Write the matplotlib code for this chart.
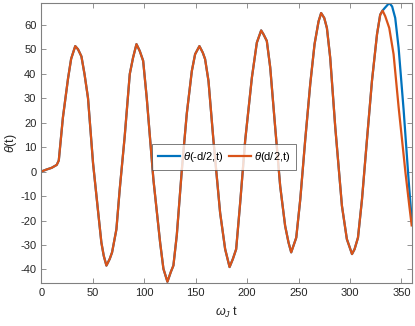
import matplotlib
matplotlib.use("Agg")
from matplotlib import pyplot as plt

# shared part of both curves (they overlap up to ~t=332)
t_common = [0, 5, 10, 15, 17, 21, 26, 29, 33, 35.7, 39, 42, 45.4, 50.3, 55, 58.4, 60.7, 63.3, 66.5,
            68.8, 73, 76.2, 81, 86, 89.2, 92.5, 95.7, 99, 102.5, 109, 115.5, 118.7, 122.6, 125.9,
            128.4, 131.7, 136.6, 141.4, 146.3, 149.5, 153.7, 157, 159.2, 162.5, 167.3, 173.8,
            178.7, 183, 186.2, 189.4, 193.3, 198.2, 204.7, 209.5, 213.7, 216, 219.2, 222.5, 227.3,
            232.2, 237, 240.3, 242.9, 245.1, 247.8, 251.7, 256.5, 261.4, 265.6, 269.5, 272, 275,
            277.6, 280.8, 285.7, 292.2, 297, 302, 304.5, 307.8, 311.7, 316.5, 321.4, 326.3, 329.4,
            331.7]
theta_common = [0, 0.8, 1.5, 2.7, 4.5, 22, 38, 46, 51.2, 49.9, 47, 39.8, 30, 3.4, -15.5, -29, -34.4,
                -38.4, -35.7, -33, -23.6, -7.4, 14, 39.8, 46.5, 52, 49.2, 45.2, 30, -3.4, -29,
                -39.7, -45, -41, -38.4, -26, 0.7, 23.6, 41, 47.9, 51.2, 48.5, 45.9, 37, 12.8,
                -16.8, -31.7, -39, -35.7, -31.7, -12.8, 12.8, 38.4, 52.6, 57.6, 56, 53.3, 42.5,
                18.2, -6, -22.2, -29, -33, -30.3, -27, -11.4, 12.8, 35.7, 52, 61.3, 64.7, 62.7,
                58.6, 46.5, 18.2, -14, -27.6, -33.7, -31.7, -27, -11.4, 12.8, 37, 56, 64, 65.7]

# where the two ends split apart
t_left_tail = [333.7, 338.2, 341, 344, 347.3, 352.2, 357, 360]
theta_left_tail = [66.7, 68.8, 67.4, 62.7, 50.5, 25, -3.4, -19.5]
t_right_tail = [334.3, 338.2, 342.4, 347.3, 354, 357.7, 360]
theta_right_tail = [63.4, 58.6, 47.9, 26.3, -0.6, -14, -22]

plt.rcParams['font.family'] = ['Liberation Sans', 'DejaVu Sans']
plt.rcParams['mathtext.fontset'] = 'custom'
plt.rcParams['mathtext.it'] = 'Liberation Sans:italic'
plt.rcParams['mathtext.rm'] = 'Liberation Sans'
plt.rcParams['axes.unicode_minus'] = False

fig = plt.figure(figsize=(4.15, 3.26), dpi=100)
ax = fig.add_axes([0.0995, 0.132, 0.8925, 0.8588])

ax.plot(t_common + t_left_tail, theta_common + theta_left_tail, color='#0072BD', lw=1.6,
        label=r'$\theta$(-d/2,t)')
ax.plot(t_common + t_right_tail, theta_common + theta_right_tail, color='#D95319', lw=1.6,
        label=r'$\theta$(d/2,t)')

ax.set_xlim(0, 360)
ax.set_ylim(-45.5, 68.8)
ax.set_xticks(range(0, 351, 50))
ax.set_yticks(range(-40, 61, 10))

grey = '#262626'
for s in ax.spines.values():
    s.set_color('#808080')
    s.set_linewidth(0.8)
ax.tick_params(direction='in', length=3.5, width=0.6, colors='#808080', labelcolor=grey,
               labelsize=8, top=True, right=True)

ax.set_xlabel(r'$\omega_J$ t', fontsize=9, color=grey, labelpad=5)
ax.set_ylabel(r'$\theta$(t)', fontsize=9, color=grey, labelpad=1)

leg = ax.legend(loc='center', bbox_to_anchor=(0.494, 0.45), ncol=2, fontsize=8,
                frameon=True, fancybox=False, handlelength=2.0, handletextpad=0.3,
                columnspacing=0.5, borderpad=0.5, borderaxespad=0)
leg.get_frame().set_edgecolor('#404040')
leg.get_frame().set_linewidth(0.6)

fig.savefig('out.png', dpi=100)
